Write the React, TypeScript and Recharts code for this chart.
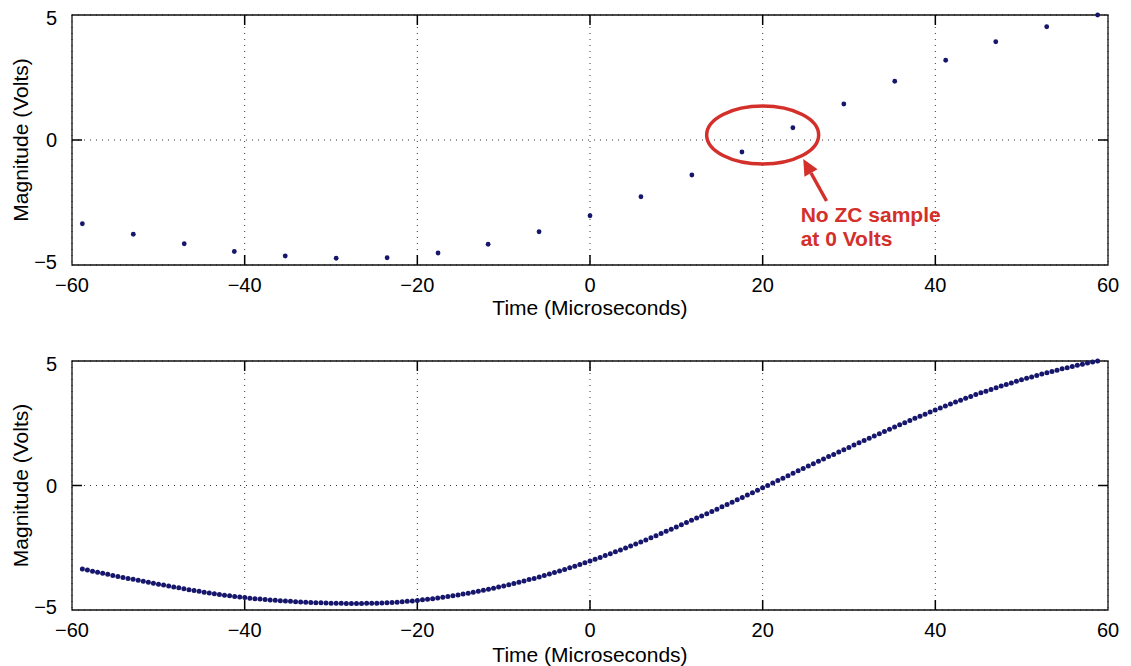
import { ScatterChart, Scatter, XAxis, YAxis, CartesianGrid, ReferenceArea, ReferenceDot, ReferenceLine } from "recharts";

const X_TICKS = [-60, -40, -20, 0, 20, 40, 60];
const Y_TICKS = [-5, 0, 5];
const X_MIN = -60;
const X_MAX = 60;
const Y_MIN = -5;
const Y_MAX = 5;

// sparse samples (upper panel)
const SAMPLE_TIMES = [-58.8, -52.9, -47.0, -41.2, -35.3, -29.4, -23.5, -17.6, -11.8, -5.9, 0, 5.9, 11.8, 17.6, 23.5, 29.4, 35.3, 41.2, 47.0, 52.9, 58.8];
const SAMPLE_VALUES = [-3.35, -3.77, -4.15, -4.46, -4.64, -4.73, -4.71, -4.52, -4.17, -3.67, -3.03, -2.27, -1.4, -0.48, 0.49, 1.44, 2.35, 3.19, 3.93, 4.53, 5.0];

// dense samples (lower panel), one every 0.588 us starting at -58.8 us
const FINE_START = -58.8;
const FINE_STEP = 0.588;
const FINE_VALUES = [
  -3.35, -3.39, -3.44, -3.48, -3.52, -3.56, -3.61, -3.65, -3.69, -3.73,
  -3.77, -3.81, -3.85, -3.89, -3.93, -3.97, -4.0, -4.04, -4.08, -4.11,
  -4.15, -4.19, -4.22, -4.25, -4.29, -4.32, -4.35, -4.38, -4.41, -4.43,
  -4.46, -4.48, -4.5, -4.53, -4.55, -4.56, -4.58, -4.6, -4.61, -4.63,
  -4.64, -4.65, -4.67, -4.68, -4.69, -4.7, -4.71, -4.71, -4.72, -4.73,
  -4.73, -4.73, -4.74, -4.74, -4.74, -4.74, -4.73, -4.73, -4.73, -4.72,
  -4.71, -4.7, -4.69, -4.67, -4.65, -4.64, -4.62, -4.59, -4.57, -4.55,
  -4.52, -4.49, -4.46, -4.43, -4.4, -4.36, -4.33, -4.29, -4.25, -4.21,
  -4.17, -4.13, -4.08, -4.04, -3.99, -3.94, -3.89, -3.84, -3.78, -3.73,
  -3.67, -3.61, -3.55, -3.49, -3.43, -3.37, -3.3, -3.24, -3.17, -3.1,
  -3.03, -2.96, -2.89, -2.81, -2.74, -2.66, -2.59, -2.51, -2.43, -2.35,
  -2.27, -2.19, -2.1, -2.02, -1.93, -1.84, -1.76, -1.67, -1.58, -1.49,
  -1.4, -1.31, -1.22, -1.13, -1.04, -0.95, -0.85, -0.76, -0.67, -0.57,
  -0.48, -0.38, -0.29, -0.19, -0.09, 0.0, 0.1, 0.2, 0.29, 0.39,
  0.49, 0.59, 0.68, 0.78, 0.87, 0.97, 1.06, 1.16, 1.25, 1.35,
  1.44, 1.53, 1.63, 1.72, 1.81, 1.9, 1.99, 2.08, 2.17, 2.26,
  2.35, 2.44, 2.52, 2.61, 2.7, 2.78, 2.86, 2.95, 3.03, 3.11,
  3.19, 3.27, 3.35, 3.42, 3.5, 3.57, 3.65, 3.72, 3.79, 3.86,
  3.93, 4.0, 4.06, 4.12, 4.19, 4.25, 4.31, 4.36, 4.42, 4.48,
  4.53, 4.58, 4.63, 4.69, 4.73, 4.78, 4.83, 4.87, 4.92, 4.96,
  5.0,
];

// annotation anchors (data units)
const CIRCLE_AT = { t: 20, v: 0.2 };
const ARROW_FROM = { t: 27.4, v: -2.44 };
const ARROW_TO = { t: 24.7, v: -0.76 };
const NOTE_AT = { t: 24.4, v: -3.28 };
const NOTE_LINES = ["No ZC sample", "at 0 Volts"];

// inward tick length, in axis units (about 10px)
const TICK_LEN_T = 1.16;
const TICK_LEN_V = 0.4;

const DOT = "#16166c";
const RED = "#d3302b";
const FONT = "'Liberation Sans', Arial, Helvetica, sans-serif";

const coarse = SAMPLE_TIMES.map((t, i) => ({ t, v: SAMPLE_VALUES[i] }));
const fine = FINE_VALUES.map((v, i) => ({ t: FINE_START + i * FINE_STEP, v }));

const fmt = (v: number) => (v < 0 ? `\u2212${-v}` : `${v}`);

const dotShape = (r: number) => (p: any) => <circle cx={p.cx} cy={p.cy} r={r} fill={DOT} />;

// y tick labels sit slightly inside the box ends, like the original
const YTick = (p: any) => {
  const v = p.payload.value;
  const shift = v > 0 ? 3 : v < 0 ? -3 : 0;
  return (
    <text x={p.x} y={p.y + shift} dy="0.355em" textAnchor="end" fontSize={20} fill="#000">
      {fmt(v)}
    </text>
  );
};

const Arrow = (p: any) => {
  const dx = p.x2 - p.x1;
  const dy = p.y2 - p.y1;
  const len = Math.sqrt(dx * dx + dy * dy);
  const ux = dx / len;
  const uy = dy / len;
  const hl = 16;
  const hw = 7.5;
  const bx = p.x2 - ux * hl;
  const by = p.y2 - uy * hl;
  return (
    <g>
      <line x1={p.x1} y1={p.y1} x2={bx} y2={by} stroke={RED} strokeWidth={3.5} />
      <polygon
        points={`${p.x2},${p.y2} ${bx - uy * hw},${by + ux * hw} ${bx + uy * hw},${by - ux * hw}`}
        fill={RED}
      />
    </g>
  );
};

// matlab style inward ticks on all four sides
const tickMarks = () => {
  const out: any[] = [];
  X_TICKS.filter((x) => x > X_MIN && x < X_MAX).forEach((x) => {
    out.push(<ReferenceLine key={`xb${x}`} segment={[{ x, y: Y_MIN }, { x, y: Y_MIN + TICK_LEN_V }]} stroke="#000" strokeWidth={1.5} />);
    out.push(<ReferenceLine key={`xt${x}`} segment={[{ x, y: Y_MAX }, { x, y: Y_MAX - TICK_LEN_V }]} stroke="#000" strokeWidth={1.5} />);
  });
  Y_TICKS.filter((y) => y > Y_MIN && y < Y_MAX).forEach((y) => {
    out.push(<ReferenceLine key={`yl${y}`} segment={[{ x: X_MIN, y }, { x: X_MIN + TICK_LEN_T, y }]} stroke="#000" strokeWidth={1.5} />);
    out.push(<ReferenceLine key={`yr${y}`} segment={[{ x: X_MAX, y }, { x: X_MAX - TICK_LEN_T, y }]} stroke="#000" strokeWidth={1.5} />);
  });
  return out;
};

type PanelProps = {
  data: { t: number; v: number }[];
  r: number;
  height: number;
  top: number;
  xHeight: number;
  labelGap: number;
  children?: any;
};

const Panel = ({ data, r, height, top, xHeight, labelGap, children }: PanelProps) => (
  <ScatterChart width={1131} height={height} margin={{ top, right: 23, bottom: 0, left: 0 }} style={{ fontFamily: FONT }}>
    <CartesianGrid stroke="#333" strokeDasharray="1 5" />
    <XAxis
      dataKey="t"
      type="number"
      domain={[X_MIN, X_MAX]}
      ticks={X_TICKS}
      interval={0}
      height={xHeight}
      axisLine={false}
      tickLine={false}
      tickMargin={7}
      tickFormatter={fmt}
      tick={{ fill: "#000", fontSize: 20 }}
      label={(p: any) => (
        <text x={p.viewBox.x + p.viewBox.width / 2} y={p.viewBox.y + labelGap} dy="0.355em" textAnchor="middle" fontSize={21} fill="#000">
          Time (Microseconds)
        </text>
      )}
    />
    <YAxis
      dataKey="v"
      type="number"
      domain={[Y_MIN, Y_MAX]}
      ticks={Y_TICKS}
      interval={0}
      width={72}
      axisLine={false}
      tickLine={false}
      tickMargin={9}
      tick={<YTick />}
      label={(p: any) => {
        const cy = p.viewBox.y + p.viewBox.height / 2;
        return (
          <text x={21} y={cy} dy="0.355em" textAnchor="middle" fontSize={21} fill="#000" transform={`rotate(-90, 21, ${cy})`}>
            Magnitude (Volts)
          </text>
        );
      }}
    />
    <ReferenceArea x1={X_MIN} x2={X_MAX} y1={Y_MIN} y2={Y_MAX} fill="none" stroke="#111" strokeWidth={1.3} ifOverflow="visible" />
    {tickMarks()}
    <Scatter data={data} dataKey="v" fill={DOT} shape={dotShape(r)} isAnimationActive={false} />
    {children}
  </ScatterChart>
);

export default function App() {
  return (
    <div style={{ position: "absolute", left: 0, top: 0, width: 1131, height: 666, background: "#fff", fontFamily: FONT }}>
      <div style={{ position: "absolute", left: 0, top: 0 }}>
        <Panel data={coarse} r={2.4} height={330} top={15} xHeight={65} labelGap={42.5}>
          <ReferenceDot
            x={CIRCLE_AT.t}
            y={CIRCLE_AT.v}
            shape={(p: any) => <ellipse cx={p.cx} cy={p.cy} rx={56} ry={29} fill="none" stroke={RED} strokeWidth={3.5} />}
          />
          <ReferenceLine
            segment={[
              { x: ARROW_FROM.t, y: ARROW_FROM.v },
              { x: ARROW_TO.t, y: ARROW_TO.v },
            ]}
            shape={Arrow}
          />
          <ReferenceDot
            x={NOTE_AT.t}
            y={NOTE_AT.v}
            shape={(p: any) => (
              <text x={p.cx} y={p.cy} fill={RED} fontWeight="bold" fontSize={21}>
                <tspan x={p.cx}>{NOTE_LINES[0]}</tspan>
                <tspan x={p.cx} dy={24}>
                  {NOTE_LINES[1]}
                </tspan>
              </text>
            )}
          />
        </Panel>
      </div>
      <div style={{ position: "absolute", left: 0, top: 330 }}>
        <Panel data={fine} r={2.5} height={336} top={31} xHeight={56} labelGap={45} />
      </div>
    </div>
  );
}
